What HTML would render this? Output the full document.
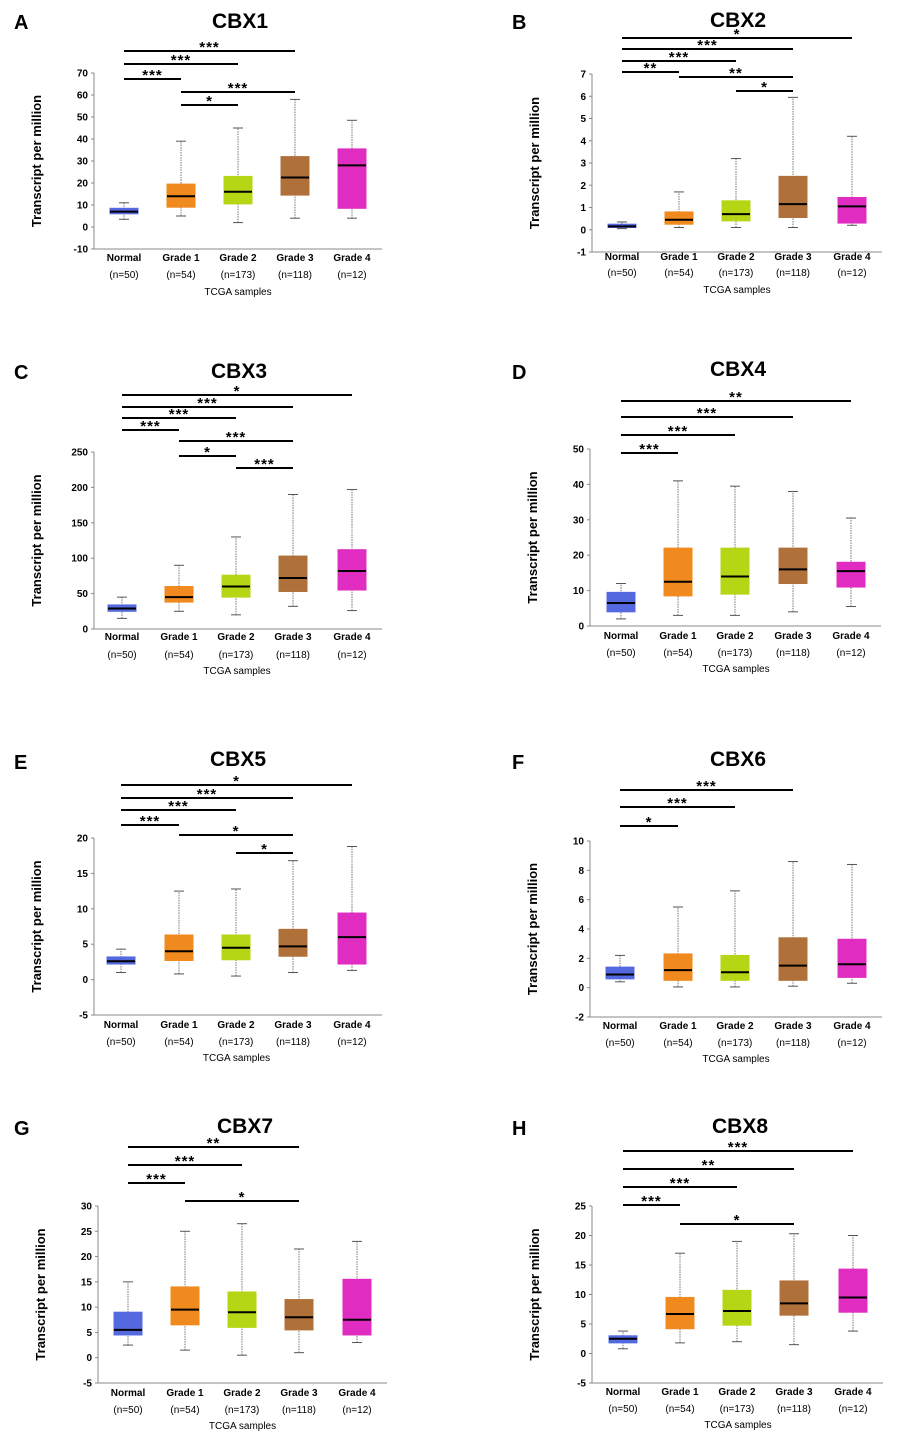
<!DOCTYPE html><html><head><meta charset="utf-8"><style>
body{margin:0;background:#fff;width:900px;height:1446px;overflow:hidden}
svg text{font-family:"Liberation Sans",sans-serif}
</style></head><body>
<svg id="s" width="900" height="1446" xmlns="http://www.w3.org/2000/svg"></svg>
<script>
const C=['#5468e0','#f08a1e','#b5d615','#b0703a','#e02cc0'];
const P=[
{L:'A',lx:14,ly:22,t:'CBX1',tx:240,ty:20,ax:94,min:-10,max:70,step:10,y0:249,y1:73,cx:[124,181,238,295,352],lab:[258,275,292],
d:[[3.5,6,7,8.5,11],[5,9,14,19.5,39],[2,10.5,16,23,45],[4,14.5,22.5,32,58],[4,8.5,28,35.5,48.5]],
b:[[51,0,3,'***'],[64,0,2,'***'],[79,0,1,'***'],[92,1,3,'***'],[105,1,2,'*']]},
{L:'B',lx:512,ly:22,t:'CBX2',tx:738,ty:19,ax:592,min:-1,max:7,step:1,y0:252,y1:74,cx:[622,679,736,793,852],lab:[257,273,290],
d:[[.05,.1,.15,.25,.35],[.1,.25,.45,.8,1.7],[.1,.4,.7,1.3,3.2],[.1,.55,1.15,2.4,5.95],[.2,.3,1.05,1.45,4.2]],
b:[[38,0,4,'*'],[49,0,3,'***'],[61,0,2,'***'],[72,0,1,'**'],[77,1,3,'**'],[91,2,3,'*']]},
{L:'C',lx:14,ly:372,t:'CBX3',tx:239,ty:370,ax:94,min:0,max:250,step:50,y0:629,y1:452,cx:[122,179,236,293,352],lab:[637,655,671],
d:[[15,25,29,34,45],[25,38,45,60,90],[20,45,60,76,130],[32,53,72,103,190],[26,55,82,112,197]],
b:[[395,0,4,'*'],[407,0,3,'***'],[418,0,2,'***'],[430,0,1,'***'],[441,1,3,'***'],[456,1,2,'*'],[468,2,3,'***']]},
{L:'D',lx:512,ly:372,t:'CBX4',tx:738,ty:368,ax:590,min:0,max:50,step:10,y0:626,y1:449,cx:[621,678,735,793,851],lab:[636,653,669],
d:[[2,4,6.5,9.5,12],[3,8.5,12.5,22,41],[3,9,14,22,39.5],[4,12,16,22,38],[5.5,11,15.5,18,30.5]],
b:[[401,0,4,'**'],[417,0,3,'***'],[435,0,2,'***'],[453,0,1,'***']]},
{L:'E',lx:14,ly:762,t:'CBX5',tx:238,ty:758,ax:94,min:-5,max:20,step:5,y0:1015,y1:838,cx:[121,179,236,293,352],lab:[1025,1042,1058],
d:[[1,2.2,2.6,3.2,4.3],[.8,2.7,4,6.3,12.5],[.5,2.8,4.5,6.3,12.8],[1,3.3,4.7,7.1,16.8],[1.3,2.2,6,9.4,18.8]],
b:[[785,0,4,'*'],[798,0,3,'***'],[810,0,2,'***'],[825,0,1,'***'],[835,1,3,'*'],[853,2,3,'*']]},
{L:'F',lx:512,ly:762,t:'CBX6',tx:738,ty:758,ax:590,min:-2,max:10,step:2,y0:1017,y1:841,cx:[620,678,735,793,852],lab:[1026,1043,1059],
d:[[.4,.6,.9,1.4,2.2],[.05,.5,1.2,2.3,5.5],[.05,.5,1.05,2.2,6.6],[.1,.5,1.5,3.4,8.6],[.3,.7,1.6,3.3,8.4]],
b:[[790,0,3,'***'],[807,0,2,'***'],[826,0,1,'*']]},
{L:'G',lx:14,ly:1128,t:'CBX7',tx:245,ty:1125,ax:98,min:-5,max:30,step:5,y0:1383,y1:1206,cx:[128,185,242,299,357],lab:[1393,1410,1426],
d:[[2.5,4.5,5.5,9,15],[1.5,6.5,9.5,14,25],[.5,6,9,13,26.5],[1,5.5,8,11.5,21.5],[3,4.5,7.5,15.5,23]],
b:[[1147,0,3,'**'],[1165,0,2,'***'],[1183,0,1,'***'],[1201,1,3,'*']]},
{L:'H',lx:512,ly:1128,t:'CBX8',tx:740,ty:1125,ax:592,min:-5,max:25,step:5,y0:1383,y1:1206,cx:[623,680,737,794,853],lab:[1392,1409,1425],
d:[[.8,1.8,2.5,3,3.8],[1.8,4.2,6.7,9.5,17],[2,4.8,7.2,10.7,19],[1.5,6.5,8.5,12.3,20.3],[3.8,7,9.5,14.3,20]],
b:[[1151,0,4,'***'],[1169,0,3,'**'],[1187,0,2,'***'],[1205,0,1,'***'],[1224,1,3,'*']]}
];
const names=['Normal','Grade 1','Grade 2','Grade 3','Grade 4'],ns=['(n=50)','(n=54)','(n=173)','(n=118)','(n=12)'];
let h='';
for(const p of P){
 const Y=v=>p.y0+(v-p.min)*(p.y1-p.y0)/(p.max-p.min);
 h+=`<text x="${p.lx}" y="${p.ly+7}" font-size="20" font-weight="bold">${p.L}</text>`;
 h+=`<text x="${p.tx}" y="${p.ty+8}" font-size="21" font-weight="bold" text-anchor="middle">${p.t}</text>`;
 const xr=p.cx[4]+30;
 h+=`<line x1="${p.ax}" y1="${p.y1}" x2="${p.ax}" y2="${p.y0}" stroke="#888" stroke-width="1"/>`;
 h+=`<line x1="${p.ax}" y1="${p.y0}" x2="${xr}" y2="${p.y0}" stroke="#888" stroke-width="1"/>`;
 for(let v=p.min;v<=p.max+1e-9;v+=p.step){const y=Y(v);
  h+=`<line x1="${p.ax-3}" y1="${y}" x2="${p.ax}" y2="${y}" stroke="#888"/><text x="${p.ax-6}" y="${y+3.5}" font-size="10" font-weight="bold" text-anchor="end">${Math.round(v*10)/10}</text>`;}
 const my=(p.y0+p.y1)/2;
 h+=`<text transform="translate(${p.ax-53},${my}) rotate(-90)" font-size="13" font-weight="bold" text-anchor="middle">Transcript per million</text>`;
 p.d.forEach((d,i)=>{const x=p.cx[i],w=14;
  h+=`<line x1="${x}" y1="${Y(d[0])}" x2="${x}" y2="${Y(d[4])}" stroke="#777" stroke-dasharray="1.5,1"/>`;
  h+=`<line x1="${x-5}" y1="${Y(d[0])}" x2="${x+5}" y2="${Y(d[0])}" stroke="#555"/><line x1="${x-5}" y1="${Y(d[4])}" x2="${x+5}" y2="${Y(d[4])}" stroke="#555"/>`;
  h+=`<rect x="${x-w}" y="${Y(d[3])}" width="${2*w}" height="${Y(d[1])-Y(d[3])}" fill="${C[i]}" stroke="${C[i]}"/>`;
  h+=`<line x1="${x-w}" y1="${Y(d[2])}" x2="${x+w}" y2="${Y(d[2])}" stroke="#000" stroke-width="2"/>`;
  h+=`<text x="${x}" y="${p.lab[0]+3}" font-size="10" font-weight="bold" text-anchor="middle">${names[i]}</text>`;
  h+=`<text x="${x}" y="${p.lab[1]+3}" font-size="10" text-anchor="middle">${ns[i]}</text>`;
 });
 h+=`<text x="${(p.cx[0]+p.cx[4])/2}" y="${p.lab[2]+3}" font-size="10" text-anchor="middle">TCGA samples</text>`;
 for(const b of p.b){const x1=p.cx[b[1]],x2=p.cx[b[2]];
  h+=`<line x1="${x1}" y1="${b[0]}" x2="${x2}" y2="${b[0]}" stroke="#000" stroke-width="2"/>`;
  h+=`<text x="${(x1+x2)/2}" y="${b[0]+1}" font-size="15" font-weight="bold" text-anchor="middle" letter-spacing="1">${b[3]}</text>`;}
}
document.getElementById('s').innerHTML=h;
</script></body></html>
